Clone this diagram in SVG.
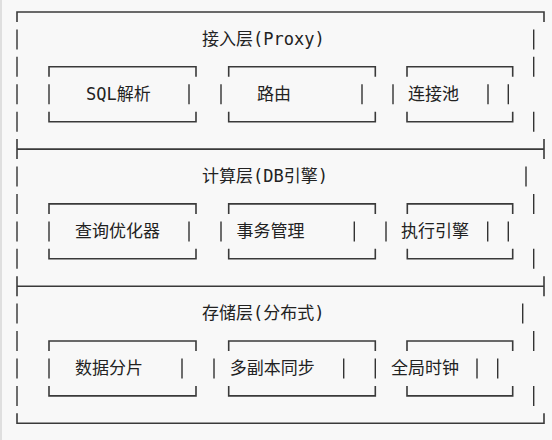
<svg xmlns="http://www.w3.org/2000/svg" width="552" height="440" viewBox="0 0 552 440">
<style>
.ln{stroke:#3a3a3a;stroke-width:1.6;fill:none}
.v{stroke:#333;stroke-width:1.4;fill:none}
.t{font-family:'DejaVu Sans Mono','Noto Sans CJK SC',monospace;font-size:17px;fill:#222}
</style>
<rect x="0" y="0" width="552" height="440" fill="#f8f8f8"/>
<line x1="1" y1="0" x2="1" y2="440" stroke="#cfcfcf" stroke-width="1.2"/>
<g id="frame">
<path class="ln" d="M17 22V12H544V22"/>
<path class="ln" d="M17 139.1V159.1M17 149.1H544M544 139.1V159.1"/>
<path class="ln" d="M17 276.2V296.2M17 286.2H544M544 276.2V296.2"/>
<path class="ln" d="M17 413.3V423.3H544V413.3"/>
<path class="v" d="M17 29.4V49.4M17 56.8V76.8M17 84.3V104.3M17 111.7V131.7M17 166.5V186.5M17 193.9V213.9M17 221.4V241.4M17 248.8V268.8M17 303.6V323.6M17 331V351M17 358.5V378.5M17 385.9V405.9"/>
<path class="v" d="M533.7 29.4V49.4M533.7 56.8V76.8M508.3 84.3V104.3M533.7 111.7V131.7M526 166.5V186.5M533.7 193.9V213.9M508.3 221.4V241.4M533.7 248.8V268.8M522.7 303.6V323.6M533.7 331V351M497.7 358.5V378.5M533.7 385.9V405.9"/>
</g>
<g id="layer-proxy">
<text class="t" x="202" y="45">接入层(Proxy)</text>
<g id="sql-parse">
<path class="ln" d="M49 76.8V66.8H196V76.8M49 111.7V121.7H196V111.7"/>
<path class="v" d="M49 84.3V104.3M189 84.3V104.3"/>
<text class="t" x="86" y="100">SQL解析</text>
</g>
<g id="routing">
<path class="ln" d="M228.7 76.8V66.8H375.3V76.8M228.7 111.7V121.7H375.3V111.7"/>
<path class="v" d="M221 84.3V104.3M362 84.3V104.3"/>
<text class="t" x="257" y="100">路由</text>
</g>
<g id="conn-pool">
<path class="ln" d="M407 76.8V66.8H512.7V76.8M407 111.7V121.7H512.7V111.7"/>
<path class="v" d="M393 84.3V104.3M488 84.3V104.3"/>
<text class="t" x="408" y="100">连接池</text>
</g>
</g>
<g id="layer-compute">
<text class="t" x="202" y="182">计算层(DB引擎)</text>
<g id="query-optimizer">
<path class="ln" d="M49 213.9V203.9H196V213.9M49 248.8V258.8H196V248.8"/>
<path class="v" d="M49 221.4V241.4M189 221.4V241.4"/>
<text class="t" x="75" y="237">查询优化器</text>
</g>
<g id="txn-manager">
<path class="ln" d="M228.7 213.9V203.9H375.3V213.9M228.7 248.8V258.8H375.3V248.8"/>
<path class="v" d="M221 221.4V241.4M354.3 221.4V241.4"/>
<text class="t" x="236.5" y="237">事务管理</text>
</g>
<g id="exec-engine">
<path class="ln" d="M407.3 213.9V203.9H512.7V213.9M407.3 248.8V258.8H512.7V248.8"/>
<path class="v" d="M386 221.4V241.4M487.7 221.4V241.4"/>
<text class="t" x="401" y="237">执行引擎</text>
</g>
</g>
<g id="layer-storage">
<text class="t" x="202" y="319">存储层(分布式)</text>
<g id="sharding">
<path class="ln" d="M49 351V341H196V351M49 385.9V395.9H196V385.9"/>
<path class="v" d="M49 358.5V378.5M182 358.5V378.5"/>
<text class="t" x="75" y="374">数据分片</text>
</g>
<g id="replication">
<path class="ln" d="M228.7 351V341H375.3V351M228.7 385.9V395.9H375.3V385.9"/>
<path class="v" d="M214 358.5V378.5M343.7 358.5V378.5"/>
<text class="t" x="229.7" y="374">多副本同步</text>
</g>
<g id="global-clock">
<path class="ln" d="M407 351V341H512.7V351M407 385.9V395.9H512.7V385.9"/>
<path class="v" d="M375.3 358.5V378.5M477 358.5V378.5"/>
<text class="t" x="391" y="374">全局时钟</text>
</g>
</g>
<g id="connectors"/>
</svg>
